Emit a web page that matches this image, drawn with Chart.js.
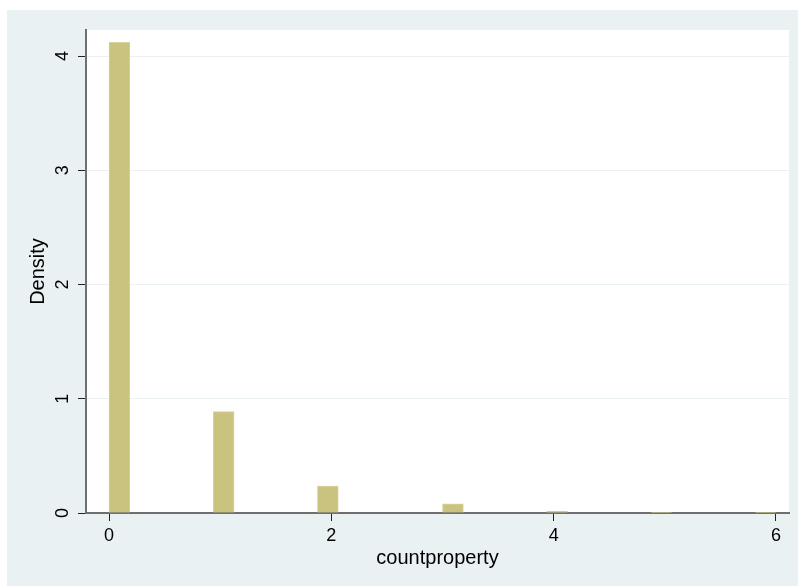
<!DOCTYPE html>
<html>
<head>
<meta charset="utf-8">
<script src="https://cdn.jsdelivr.net/npm/chart.js@4.4.1/dist/chart.umd.min.js"></script>
<style>
  html, body { margin: 0; padding: 0; background: #ffffff; }
  #wrap { width: 798px; height: 586px; }
</style>
</head>
<body>
<div id="wrap"><canvas id="hist" width="798" height="586"></canvas></div>
<script>
// Histogram of countproperty: 32 equal-width bins over [0, 6]
const binLow = 0;
const binHigh = 6;
const density = [
  4.12, 0, 0, 0, 0, 0.887, 0, 0,
  0, 0, 0.236, 0, 0, 0, 0, 0,
  0.08, 0, 0, 0, 0, 0.014, 0, 0,
  0, 0, 0.006, 0, 0, 0, 0, 0.006
];
const xTickValues = [0, 2, 4, 6];
const yTickValues = [0, 1, 2, 3, 4];
const xTitle = 'countproperty';
const yTitle = 'Density';

const binWidth = (binHigh - binLow) / density.length;
const points = density.map((d, i) => ({ x: binLow + binWidth * (i + 0.5), y: d }));

const FONT = '"Liberation Sans", Arial, Helvetica, sans-serif';
const AXIS_GRAY = '#6f6f6f';
const PANEL_BG = '#e9f1f3';

const backdrop = {
  id: 'backdrop',
  beforeDraw(chart) {
    const { ctx, chartArea: a } = chart;
    ctx.save();
    ctx.fillStyle = '#ffffff';
    ctx.fillRect(0, 0, chart.width, chart.height);
    ctx.fillStyle = PANEL_BG;
    ctx.fillRect(7, 10, chart.width - 7, chart.height - 10);
    ctx.fillStyle = '#ffffff';
    ctx.fillRect(a.left, a.top, a.right - a.left, a.bottom - a.top);
    ctx.restore();
  }
};

function keepTicks(values) {
  return (scale) => { scale.ticks = values.map(v => ({ value: v })); };
}

new Chart(document.getElementById('hist'), {
  type: 'bar',
  data: {
    datasets: [{
      data: points,
      backgroundColor: 'rgb(202,195,127)',
      borderColor: 'rgb(216,210,158)',
      borderWidth: 1,
      borderSkipped: 'bottom',
      barPercentage: 1,
      categoryPercentage: 1
    }]
  },
  options: {
    responsive: false,
    animation: false,
    devicePixelRatio: 1,
    layout: { padding: { left: 7, top: 30, right: 9, bottom: 0 } },
    plugins: { legend: { display: false }, tooltip: { enabled: false } },
    scales: {
      x: {
        type: 'linear',
        min: -0.207,
        max: 6.117,
        offset: false,
        afterBuildTicks: keepTicks(xTickValues),
        afterFit: (s) => { s.height = 73; },
        grid: { display: true, offset: false, drawOnChartArea: false, tickLength: 8, tickColor: '#222', tickWidth: 1 },
        border: { display: true, color: AXIS_GRAY, width: 2 },
        ticks: { font: { family: FONT, size: 18 }, color: '#000', padding: 4, maxRotation: 0, autoSkip: false },
        title: { display: true, text: xTitle, font: { family: FONT, size: 20, lineHeight: 1.2 }, color: '#000', padding: { top: 0, bottom: 16 } }
      },
      y: {
        type: 'linear',
        min: 0,
        max: 4.228,
        afterBuildTicks: keepTicks(yTickValues),
        afterFit: (s) => { s.width = 79; },
        grid: {
          color: (c) => (c.tick && c.tick.value > 0 ? PANEL_BG : 'rgba(0,0,0,0)'),
          lineWidth: 1,
          tickLength: 8,
          tickColor: '#222',
          tickWidth: 1
        },
        border: { display: true, color: AXIS_GRAY, width: 2 },
        ticks: { font: { family: FONT, size: 18 }, color: '#000', padding: 10, minRotation: 90, maxRotation: 90, crossAlign: 'center', autoSkip: false },
        title: { display: true, text: yTitle, font: { family: FONT, size: 20, lineHeight: 1.2 }, color: '#000', padding: { top: 19, bottom: 0 } }
      }
    }
  },
  plugins: [backdrop]
});
</script>
</body>
</html>
